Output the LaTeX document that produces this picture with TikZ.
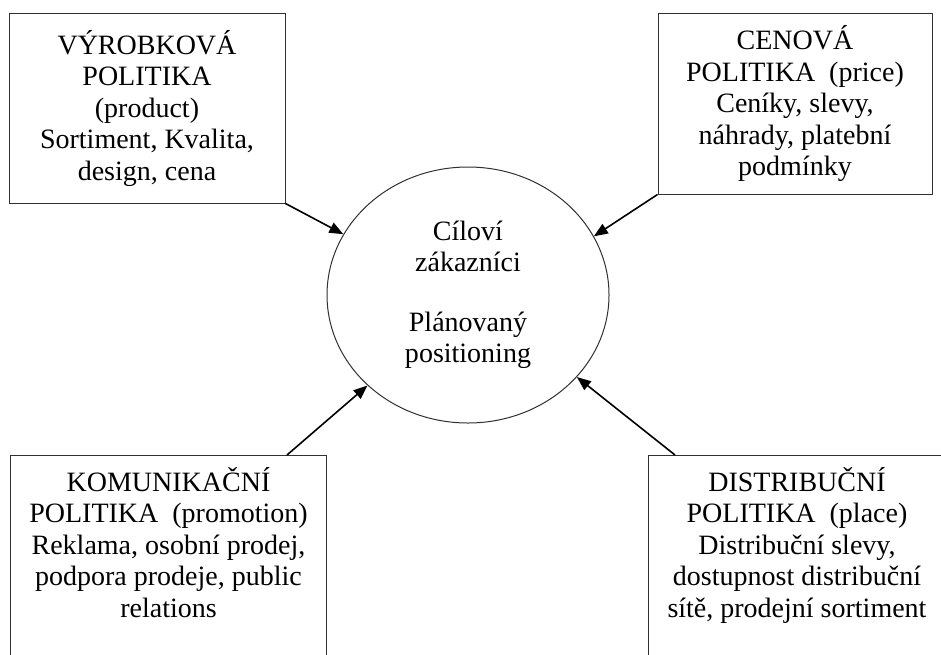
\documentclass[tikz,border=0pt]{standalone}
\usepackage{fontspec}
\setmainfont{Liberation Serif}
\usetikzlibrary{arrows.meta,calc,positioning,shapes.geometric}
\definecolor{frame}{HTML}{303030}

\begin{document}
\begin{tikzpicture}[x=1pt,y=1pt,font=\fontsize{28}{31.5}\selectfont,>={Triangle[length=14pt,width=11pt]},
  policy/.style={draw=frame,line width=1pt,align=center,inner sep=0pt},
  policytext/.style={align=center,inner sep=0pt},
  feed/.style={->,line width=1.6pt}]
\useasboundingbox (0,0) rectangle (941,-654);
% the four policy boxes
\node[policy,minimum width=276pt,minimum height=190pt] (prod) at (147,-108) {VÝROBKOVÁ\\POLITIKA\\(product)\\Sortiment, Kvalita,\\design, cena};
\node[policy,minimum width=274pt,minimum height=181pt] (price) at (795,-103.5) {CENOVÁ\\POLITIKA\ \ (price)\\Ceníky, slevy,\\náhrady, platební\\podmínky};
\node[policy,anchor=north west,minimum width=316pt,minimum height=230pt] (prom) at (10,-455) {};
\node[policytext,below=12pt of prom.north] (promtext) {KOMUNIKAČNÍ\\POLITIKA\ \ (promotion)\\Reklama, osobní prodej,\\podpora prodeje, public\\relations};
\node[policy,anchor=north west,minimum width=297pt,minimum height=230pt] (place) at (648,-455) {};
\node[policytext,below=12pt of place.north] (placetext) {DISTRIBUČNÍ\\POLITIKA\ \ (place)\\Distribuční slevy,\\dostupnost distribuční\\sítě, prodejní sortiment};
% target customers in the middle
\node[ellipse,draw=frame,line width=1pt,minimum width=282pt,minimum height=256pt,inner sep=0pt,align=center] (cust) at (468,-295) {Cíloví\\zákazníci\\[28pt]Plánovaný\\positioning};
\draw[feed] (prod.south east) -- (cust.154);
\draw[feed] (price.south west) -- (cust.25);
\draw[feed] ($(prom.north east)+(-40,0)$) -- (cust.222);
\draw[feed] ($(place.north west)+(27,0)$) -- (cust.323);
\end{tikzpicture}
\end{document}
